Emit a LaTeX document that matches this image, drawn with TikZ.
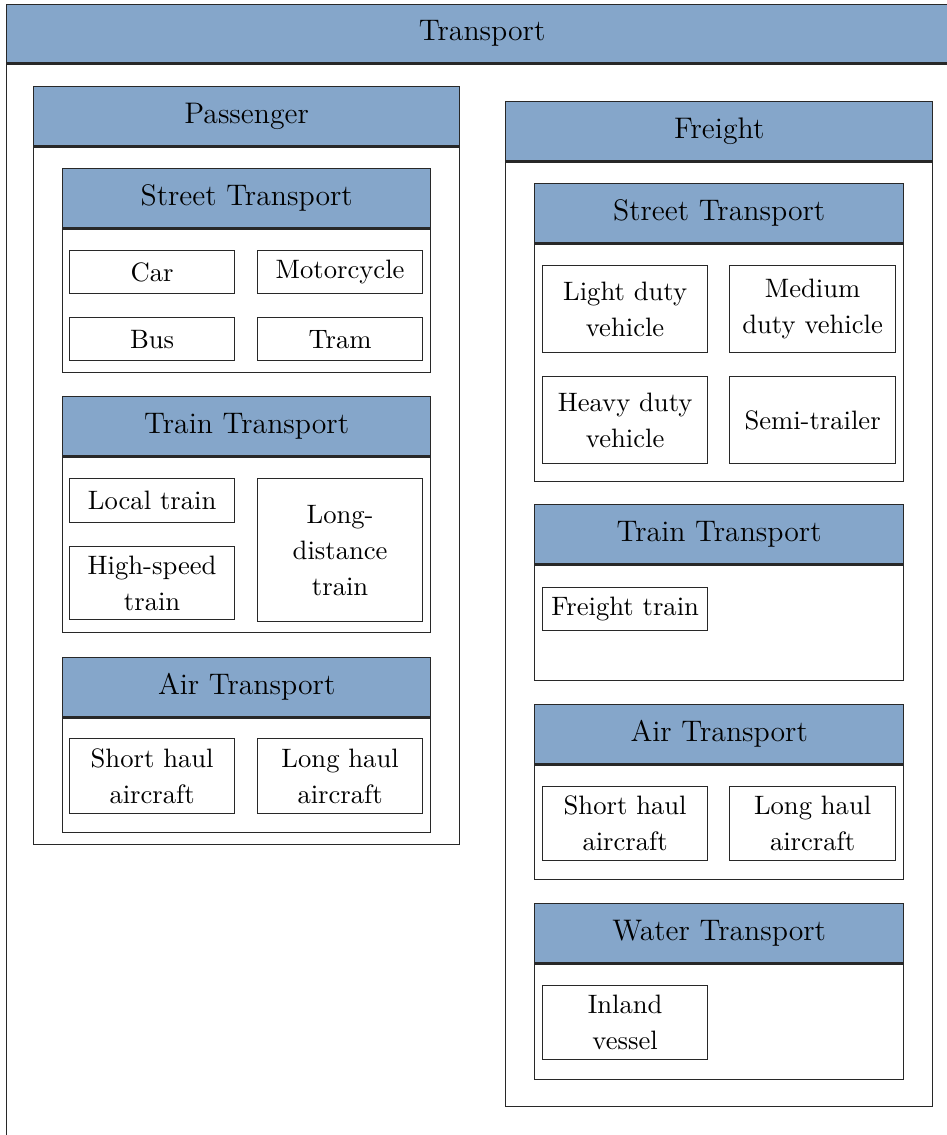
\documentclass[tikz,border=0pt]{standalone}
\usepackage{fontspec}
\definecolor{hdr}{RGB}{133,166,202}
\definecolor{ln}{RGB}{40,40,40}
\tikzset{
 frame/.style={draw=ln, line width=0.55pt, fill=white, inner sep=0pt, anchor=north west},
 hbar/.style={draw=ln, line width=0.55pt, fill=hdr, inner sep=0pt, anchor=north west, font=\fontsize{11.9}{14}\selectfont},
 item/.style={draw=ln, line width=0.5pt, fill=white, inner sep=0pt, anchor=north west, align=center, font=\fontsize{10.65}{14.4}\selectfont},
 hline/.style={draw=ln, line width=0.9pt},
}
\newcommand\mkbox[7]{\node[#6, minimum width={(#4-#2)*0.4pt}, minimum height={(#5-#3)*0.4pt}] (#1) at (#2,#3) {#7};}
\newcommand\tsec[7]{%
 \mkbox{#1}{#2}{#3}{#4}{#5}{frame}{}
 \mkbox{#1h}{#2}{#3}{#4}{#6}{hbar}{#7}
 \draw[hline] (#1h.south west) -- (#1h.south east);}
\begin{document}
\begin{tikzpicture}[x=0.4pt, y=-0.4pt]
\useasboundingbox (0,0) rectangle (947,1135);
\clip (0,0) rectangle (947,1135);
% outer
\tsec{tr}{6}{4}{957}{1150}{62}{Transport}
% Passenger
\tsec{pa}{33}{86}{459}{844}{145}{Passenger}
\tsec{ps}{62}{168}{430}{372}{227}{Street Transport}
\mkbox{car}{69}{250}{234}{293}{item}{Car}
\mkbox{moto}{257}{250}{422}{293}{item}{Motorcycle}
\mkbox{bus}{69}{317}{234}{360}{item}{Bus}
\mkbox{tram}{257}{317}{422}{360}{item}{Tram}
\tsec{pt}{62}{396}{430}{632}{455}{Train Transport}
\mkbox{local}{69}{478}{234}{522}{item}{Local train}
\mkbox{hs}{69}{546}{234}{619}{item}{High-speed\\train}
\mkbox{ld}{257}{478}{422}{621}{item}{Long-\\distance\\train}
\tsec{pair}{62}{657}{430}{832}{716}{Air Transport}
\mkbox{psh}{69}{738}{234}{813}{item}{Short haul\\aircraft}
\mkbox{plh}{257}{738}{422}{813}{item}{Long haul\\aircraft}
% Freight
\tsec{fr}{505}{101}{932}{1106}{160}{Freight}
\tsec{fs}{534}{183}{903}{481}{242}{Street Transport}
\mkbox{light}{542}{265}{707}{352}{item}{Light duty\\vehicle}
\mkbox{medium}{729}{265}{895}{352}{item}{Medium\\duty vehicle}
\mkbox{heavy}{542}{376}{707}{463}{item}{Heavy duty\\vehicle}
\mkbox{semi}{729}{376}{895}{463}{item}{Semi-trailer}
\tsec{ft}{534}{504}{903}{680}{563}{Train Transport}
\mkbox{ftrain}{542}{587}{707}{630}{item}{Freight train}
\tsec{fair}{534}{704}{903}{879}{763}{Air Transport}
\mkbox{fsh}{542}{786}{707}{860}{item}{Short haul\\aircraft}
\mkbox{flh}{729}{786}{895}{860}{item}{Long haul\\aircraft}
\tsec{fw}{534}{903}{903}{1079}{962}{Water Transport}
\mkbox{inland}{542}{985}{707}{1059}{item}{Inland\\vessel}
\end{tikzpicture}
\end{document}
